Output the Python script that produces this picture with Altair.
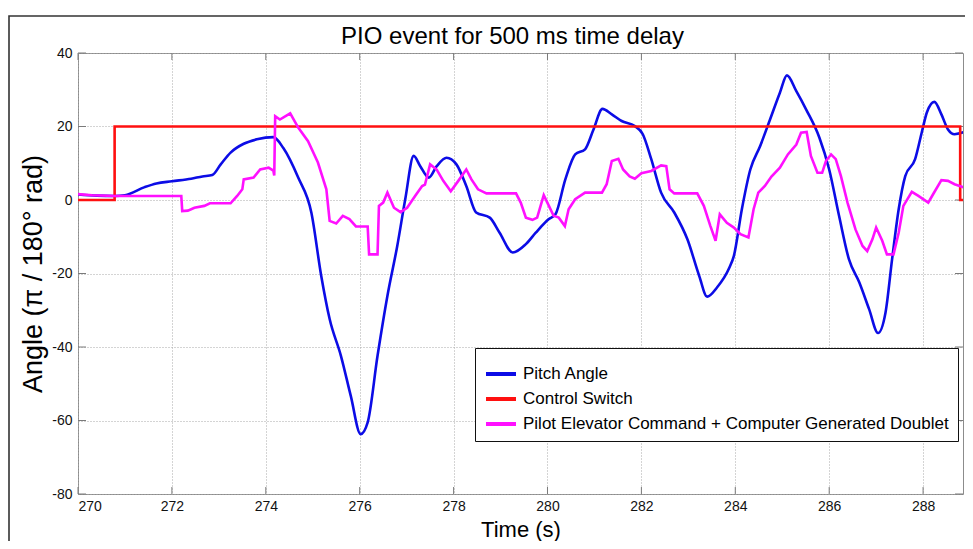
import altair as alt
import pandas as pd

# ---- data ----
pitch_t = [270.0, 270.4, 270.78, 271.0, 271.42, 271.67, 272.0, 272.41, 272.65, 272.86,
           273.04, 273.25, 273.53, 273.81, 274.16, 274.37, 274.69, 274.97, 275.18, 275.36,
           275.60, 275.81, 276.02, 276.17, 276.38, 276.59, 276.80, 276.97, 277.15, 277.29,
           277.47, 277.64, 277.85, 278.06, 278.27, 278.48, 278.77, 278.98, 279.26, 279.54,
           279.75, 280.03, 280.17, 280.38, 280.59, 280.80, 280.98, 281.17, 281.37, 281.58,
           281.86, 282.03, 282.21, 282.42, 282.70, 282.98, 283.23, 283.40, 283.61, 283.87,
           283.97, 284.14, 284.32, 284.53, 284.74, 284.95, 285.10, 285.30, 285.51, 285.79,
           286.00, 286.21, 286.42, 286.64, 286.85, 287.04, 287.20, 287.34, 287.48, 287.62,
           287.83, 287.97, 288.08, 288.24, 288.39, 288.53, 288.67, 288.88]
pitch_v = [1.5, 1.2, 1.1, 1.3, 3.5, 4.5, 5.1, 5.8, 6.4, 6.8,
           9.7, 12.9, 15.3, 16.5, 17.1, 14.2, 6.1, -3.4, -20.6, -32.4,
           -42.4, -53.3, -63.7, -60.5, -42.4, -26.1, -12.5, 0.2, 12.0, 9.2,
           6.1, 9.2, 11.5, 9.7, 3.8, -3.4, -4.8, -8.9, -14.3, -12.0,
           -8.9, -5.2, -3.9, 5.6, 12.4, 13.8, 19.2, 24.8, 23.3, 21.5,
           20.1, 17.9, 11.1, 2.0, -3.4, -10.7, -20.6, -26.3, -23.8, -18.5,
           -15.2, -2.5, 8.3, 14.7, 21.9, 29.2, 33.9, 29.6, 24.6, 17.0,
           8.3, -4.3, -16.1, -22.4, -29.7, -36.2, -30.6, -16.1, -2.5, 6.5,
           11.1, 18.3, 23.8, 26.7, 23.3, 19.2, 17.9, 18.5]

switch_t = [270.0, 270.78, 270.78, 288.79, 288.79, 288.88]
switch_v = [0, 0, 20, 20, 0, 0]

pilot_t = [270.0, 270.3, 270.78, 272.2, 272.22, 272.34, 272.48, 272.69, 272.81, 273.25,
           273.39, 273.50, 273.53, 273.74, 273.88, 274.06, 274.16, 274.18, 274.20, 274.30,
           274.52, 274.69, 274.90, 275.11, 275.29, 275.36, 275.50, 275.64, 275.78, 275.92,
           276.17, 276.20, 276.38, 276.41, 276.50, 276.59, 276.73, 276.87, 277.01, 277.18,
           277.33, 277.39, 277.50, 277.64, 277.78, 277.94, 278.10, 278.27, 278.38, 278.52,
           278.70, 279.33, 279.43, 279.54, 279.68, 279.78, 279.92, 280.03, 280.13, 280.24,
           280.37, 280.45, 280.59, 280.80, 281.16, 281.26, 281.37, 281.51, 281.61, 281.75,
           281.86, 282.00, 282.21, 282.42, 282.53, 282.60, 282.70, 283.19, 283.33, 283.47,
           283.58, 283.67, 283.82, 283.97, 284.11, 284.28, 284.39, 284.49, 284.63, 284.77,
           284.95, 285.12, 285.30, 285.40, 285.52, 285.61, 285.75, 285.85, 285.93, 286.04,
           286.14, 286.25, 286.39, 286.56, 286.71, 286.81, 286.92, 287.00, 287.13, 287.23,
           287.37, 287.48, 287.58, 287.76, 287.90, 288.11, 288.21, 288.39, 288.53, 288.67,
           288.88]
pilot_v = [1.6, 1.3, 1.1, 1.1, -3.0, -2.9, -2.1, -1.6, -0.9, -0.9,
           1.1, 2.9, 5.6, 6.1, 8.3, 8.8, 8.0, 6.7, 22.8, 21.9,
           23.6, 19.7, 16.0, 10.2, 2.9, -5.7, -6.4, -4.3, -5.2, -7.2,
           -7.2, -14.8, -14.8, -1.6, -0.7, 2.0, -2.1, -3.3, -2.1, 1.1,
           3.8, 4.2, 9.7, 8.3, 5.2, 2.4, 5.2, 8.3, 5.6, 2.9,
           1.8, 1.8, -0.7, -4.8, -5.4, -4.8, 1.3, -1.6, -4.3, -4.8,
           -7.1, -2.5, 0.2, 2.0, 2.0, 4.3, 10.6, 11.2, 8.3, 6.4,
           5.8, 7.3, 7.9, 9.4, 9.2, 2.9, 1.8, 1.8, -1.6, -7.1,
           -11.1, -3.9, -6.2, -7.5, -9.3, -10.2, -2.5, 2.0, 3.8, 6.4,
           8.8, 12.4, 15.1, 18.3, 18.5, 12.0, 7.4, 7.4, 10.6, 12.4,
           11.1, 6.5, -0.7, -8.0, -12.5, -13.9, -10.7, -7.5, -11.1, -14.8,
           -14.8, -8.9, -1.6, 2.2, 1.1, -0.7, 1.5, 5.4, 5.2, 4.3,
           3.4]

series_names = ["Pitch Angle", "Control Switch",
                "Pilot Elevator Command + Computer Generated Doublet"]
series_colors = ["#0c0ce6", "#ff1010", "#ff10ff"]

x_ticks = [270, 272, 274, 276, 278, 280, 282, 284, 286, 288]
y_ticks = [-80, -60, -40, -20, 0, 20, 40]
chart_title = ["PIO event for 500 ms time delay"]

# ---- layout ----
W, H = 885, 441
FONT = "Liberation Sans"


def frame(ts, vs, name):
    return pd.DataFrame({"t": ts, "v": vs, "series": name, "i": range(len(ts))})


xscale = alt.Scale(domain=[270, 288.85], nice=False, zero=False)
yscale = alt.Scale(domain=[-80, 40], nice=False, zero=False)
xaxis = alt.Axis(values=x_ticks, title="Time (s)", titleFontSize=22, titleFont=FONT,
                 titleFontWeight="normal", titleY=35, titleBaseline="middle",
                 labelPadding=5, labelExpr="'' + datum.value")
yaxis = alt.Axis(values=y_ticks, title="Angle (π / 180° rad)", titleFontSize=27,
                 titleFont=FONT, titleFontWeight="normal", titleX=-45, titleY=H / 2,
                 titleAngle=270, titleAlign="center", titleBaseline="middle",
                 labelPadding=6, labelExpr="'' + datum.value")

color = alt.Color("series:N",
                  scale=alt.Scale(domain=series_names, range=series_colors),
                  legend=alt.Legend(title=None, orient="none", legendX=397, legendY=295,
                                    direction="vertical", symbolType="stroke",
                                    symbolSize=900, symbolStrokeWidth=4,
                                    labelFontSize=17, labelFont=FONT, labelLimit=0,
                                    labelOffset=5, padding=9, rowPadding=-11,
                                    strokeColor="#111111", fillColor="white",
                                    cornerRadius=0, labelColor="black"))


def line(df, interp="linear"):
    return alt.Chart(df).mark_line(strokeWidth=2.6, clip=True, interpolate=interp).encode(
        x=alt.X("t:Q", scale=xscale, axis=xaxis),
        y=alt.Y("v:Q", scale=yscale, axis=yaxis),
        color=color,
        order=alt.Order("i:Q"),
    )


pitch = line(frame(pitch_t, pitch_v, series_names[0]), "monotone")
switch = line(frame(switch_t, switch_v, series_names[1]))
pilot = line(frame(pilot_t, pilot_v, series_names[2]))

ydf = pd.DataFrame({"v": y_ticks})
xdf = pd.DataFrame({"t": x_ticks})
tick_color = "#7a7a7a"
left_ticks = alt.Chart(ydf).mark_rule(color=tick_color).encode(
    y=alt.Y("v:Q", scale=yscale, axis=yaxis), x=alt.value(0), x2=alt.value(8))
right_ticks = alt.Chart(ydf).mark_rule(color=tick_color).encode(
    y=alt.Y("v:Q", scale=yscale, axis=yaxis), x=alt.value(W - 8), x2=alt.value(W))
bottom_ticks = alt.Chart(xdf).mark_rule(color=tick_color).encode(
    x=alt.X("t:Q", scale=xscale, axis=xaxis), y=alt.value(H), y2=alt.value(H - 7))
top_ticks = alt.Chart(xdf).mark_rule(color=tick_color).encode(
    x=alt.X("t:Q", scale=xscale, axis=xaxis), y=alt.value(0), y2=alt.value(7))

border = alt.Chart(pd.DataFrame({"a": [0]})).mark_rect(
    fillOpacity=0, stroke="#333333", strokeWidth=1.6).encode(
    x=alt.value(-69), y=alt.value(-37), x2=alt.value(1500), y2=alt.value(1500))

title_text = alt.Chart(pd.DataFrame({"txt": chart_title})).mark_text(
    font=FONT, fontSize=24, color="black", align="center", baseline="alphabetic").encode(
    x=alt.value(W / 2 - 8), y=alt.value(-9), text="txt:N")

chart = alt.layer(
    border, left_ticks, right_ticks, bottom_ticks, top_ticks, pitch, switch, pilot, title_text
).properties(
    width=W, height=H,
    autosize=alt.AutoSizeParams(type="none"),
    padding={"left": 70, "top": 45, "right": 2, "bottom": 47},
    background="white",
).configure_view(
    stroke="#8c8c8c", strokeWidth=1
).configure_axis(
    domain=False, ticks=False, grid=True, gridDash=[1, 2], gridColor="#a8a8a8",
    gridWidth=1, labelFont=FONT, labelFontSize=14, labelColor="#111111",
    titleColor="black",
)

chart.save("out.html", embed_options={"renderer": "svg", "actions": False})
